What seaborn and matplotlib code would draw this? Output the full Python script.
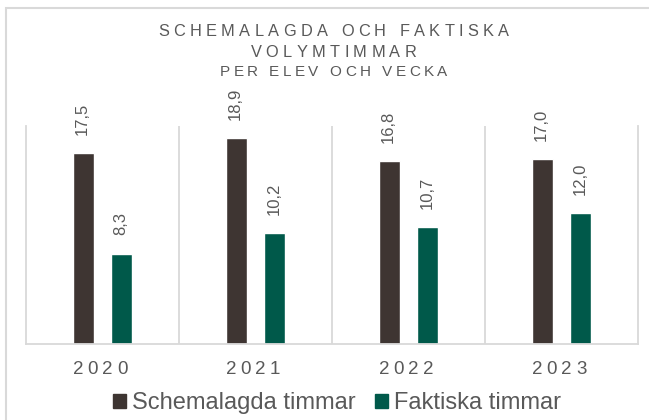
import matplotlib
matplotlib.use("Agg")
import matplotlib.pyplot as plt
from matplotlib.patches import Rectangle
import seaborn as sns
import pandas as pd

years = ["2020", "2021", "2022", "2023"]
scheduled = [17.5, 18.9, 16.8, 17.0]
actual = [8.3, 10.2, 10.7, 12.0]
series_names = ["Schemalagda timmar", "Faktiska timmar"]
title_lines = ["SCHEMALAGDA OCH FAKTISKA", "VOLYMTIMMAR", "PER ELEV OCH VECKA"]

DARK = "#3E3532"
GREEN = "#00594A"
TEXT = "#595959"
GRID = "#D9D9D9"

sns.set_theme(style="white")
plt.rcParams["font.family"] = ["Liberation Sans", "DejaVu Sans"]

df = pd.DataFrame({
    "year": years * 2,
    "hours": scheduled + actual,
    "series": [series_names[0]] * len(years) + [series_names[1]] * len(years),
})

W, H = 649, 420
fig = plt.figure(figsize=(W / 100, H / 100), dpi=100)
ax = fig.add_axes([26 / W, 1 - 344 / H, (638 - 26) / W, (344 - 126) / H])

sns.barplot(data=df, x="year", y="hours", hue="series", order=years,
            hue_order=series_names, palette=[DARK, GREEN], width=0.5, gap=0.47,
            saturation=1, ax=ax, legend=False, errorbar=None)

ax.set_ylim(0, 20)
ax.set_xlim(-0.5, len(years) - 0.5)
ax.set_xlabel("")
ax.set_ylabel("")
ax.set_yticks([])
ax.set_xticks([])
for side in ["left", "right", "bottom"]:
    ax.spines[side].set_visible(True)
    ax.spines[side].set_color(GRID)
    ax.spines[side].set_linewidth(1.3)
ax.spines["top"].set_visible(False)
for i in range(1, len(years)):
    ax.axvline(i - 0.5, color=GRID, lw=1.3, zorder=0)

# value labels, rotated above each bar
for cont in ax.containers:
    for bar in cont:
        h = bar.get_height()
        ax.annotate(f"{h:.1f}".replace(".", ","),
                    (bar.get_x() + bar.get_width() / 2, h),
                    xytext=(-0.5, 13), textcoords="offset points",
                    rotation=90, ha="center", va="bottom",
                    fontsize=12, color=TEXT)

renderer = fig.canvas.get_renderer()


def tracked_text(x_px, y_px, s, size, spacing, color=TEXT):
    """Draw text centred on (x_px, y_px) in pixels with extra letter spacing."""
    pieces = []
    widths = []
    for ch in s:
        t = fig.text(0, 0, ch, fontsize=size, color=color, ha="left", va="center")
        bb = t.get_window_extent(renderer)
        w = bb.width if ch != " " else size * 0.278 * 100 / 72
        pieces.append(t)
        widths.append(w)
    total = sum(widths) + spacing * (len(s) - 1)
    x = x_px - total / 2
    for t, w in zip(pieces, widths):
        t.set_position((x / W, 1 - y_px / H))
        x += w + spacing


tracked_text(333.5, 32, title_lines[0], 11.8, 4.4)
tracked_text(333.5, 52.5, title_lines[1], 11.8, 4.4)
tracked_text(333.5, 72.5, title_lines[2], 11.0, 3.5)

# category labels
for i, yr in enumerate(years):
    x_px = 26 + (i + 0.5) * (638 - 26) / len(years)
    tracked_text(x_px - 2.5, 370, yr, 13.5, 4.2)

# legend
handles = [Rectangle((0, 0), 1, 1, color=c) for c in (DARK, GREEN)]
fig.legend(handles, series_names, loc="center", bbox_to_anchor=(337 / W, 1 - 403 / H),
           ncol=2, frameon=False, fontsize=17, handlelength=0.55, handleheight=0.55,
           handletextpad=0.22, columnspacing=0.85, labelcolor=TEXT,
           borderpad=0, borderaxespad=0)

# outer chart border
fig.patches.append(Rectangle((6 / W, -0.1), 1.2, 1 - 8 / H + 0.1, transform=fig.transFigure,
                             fill=False, edgecolor=GRID, lw=1.5))

fig.savefig("out.png", dpi=100)
